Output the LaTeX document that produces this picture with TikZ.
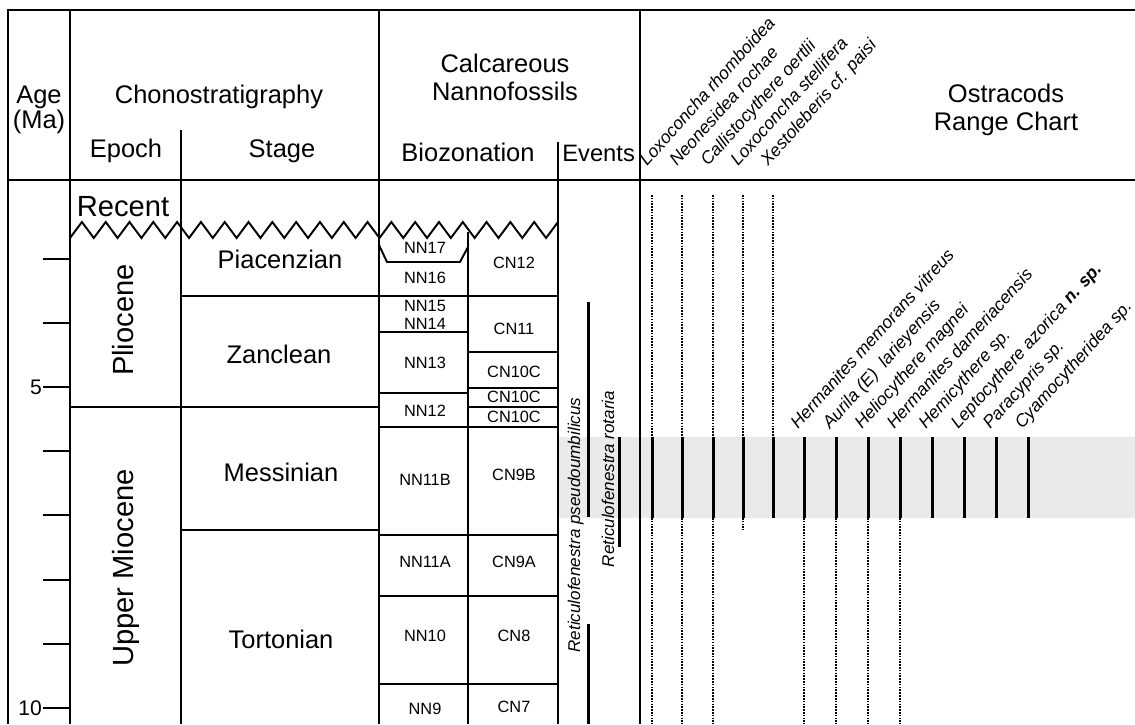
\documentclass[tikz,border=0pt]{standalone}
\usepackage{fontspec}
\setmainfont{Liberation Sans}
\usetikzlibrary{positioning}

\definecolor{bandgrey}{RGB}{234,234,234}

\tikzset{
    rule/.style={line width=1.1pt},
    present/.style={line width=1.7pt},
    absent/.style={line width=1.1pt, dash pattern=on 0.9pt off 0.7pt},
    heading/.style={font=\fontsize{14.5}{16}\selectfont, inner sep=0pt},
    epochname/.style={font=\fontsize{16.6}{18}\selectfont, inner sep=0pt},
    zone/.style={font=\fontsize{9.3}{10}\selectfont, inner sep=0pt},
    taxon/.style={font=\fontsize{10}{11}\selectfont\itshape, rotate=48, anchor=base west, inner sep=0pt},
    marker/.style={font=\fontsize{9.7}{10}\selectfont\itshape, rotate=90, anchor=base, inner sep=0pt},
    agenum/.style={font=\fontsize{12}{13}\selectfont, anchor=east, inner sep=0.5pt}
}

\begin{document}
\begin{tikzpicture}[x=0.02cm, y=-0.02cm]
        \useasboundingbox (0,0) rectangle (1135,724);

        % Shade the interval
        \fill[bandgrey] (558,437) rectangle (1135,518);

        % Draw the frame and the columns
        \draw[rule] (8,724) -- (8,10) -- (1135,10);
        \draw[rule] (8,180) -- (1135,180);
        \draw[rule] (70,10) -- (70,724);
        \draw[rule] (181,130) -- (181,724);
        \draw[rule] (379,10) -- (379,724);
        \draw[rule] (468,232) -- (468,724);
        \draw[rule] (558,142) -- (558,724);
        \draw[rule] (640,10) -- (640,724);

        % Unconformity
        \draw[rule] (70,238) \foreach \i in {1,...,41} { -- ({70+\i*11.902},{230+8*cos(\i*180)}) };

        % Boundaries of stages and zones
        \draw[rule] (379,245) -- (387,262) -- (460,262) -- (468,247);
        \draw[rule] (181,296) -- (558,296);
        \draw[rule] (379,332) -- (468,332);
        \draw[rule] (468,352) -- (558,352);
        \draw[rule] (468,388) -- (558,388);
        \draw[rule] (379,393) -- (468,393);
        \draw[rule] (70,407) -- (379,407);
        \draw[rule] (468,407) -- (558,407);
        \draw[rule] (379,427) -- (558,427);
        \draw[rule] (181,530) -- (379,530);
        \draw[rule] (379,535) -- (558,535);
        \draw[rule] (379,596) -- (558,596);
        \draw[rule] (379,684) -- (558,684);

        % Age scale
        \foreach \a in {3,...,10}
            \draw[rule] (43,{387+(\a-5)*64.2}) -- (70,{387+(\a-5)*64.2});
        \node[agenum] (five) at (43,387) {5};
        \node[agenum] (ten)  at (43,708) {10};

        % Headings
        \node[heading, anchor=base] (age)    at (39,103)   {Age};
        \node[heading, anchor=base] (ma)     at (39,128)   {(Ma)};
        \node[heading, anchor=base] (chrono) at (219,103)  {Chonostratigraphy};
        \node[heading, anchor=base] (epoch)  at (126,157)  {Epoch};
        \node[heading, anchor=base] (stage)  at (282,157)  {Stage};
        \node[heading, anchor=base] (calc)   at (505,72)   {Calcareous};
        \node[heading, anchor=base] (nanno)  at (505,100)  {Nannofossils};
        \node[heading, anchor=base] (bio)    at (468,161)  {Biozonation};
        \node[heading, anchor=base west, font=\fontsize{13.5}{15}\selectfont] (events) at (562,161) {Events};
        \node[heading, anchor=base] (ostra)  at (1006,102) {Ostracods};
        \node[heading, anchor=base] (chart)  at (1006,130) {Range Chart};

        % Epochs and stages
        \node[epochname] (recent) at (123,207) {Recent};
        \node[epochname, rotate=90, anchor=base] (plio) at (133,320) {Pliocene};
        \node[epochname, rotate=90, anchor=base] (mio)  at (133,568) {Upper Miocene};
        \node[heading] (piac) at (280,259) {Piacenzian};
        \node[heading] (zanc) at (279,354) {Zanclean};
        \node[heading] (mess) at (281,472) {Messinian};
        \node[heading] (tort) at (281,639) {Tortonian};

        % Nannofossil zones
        \node[zone] (nn17) at (425,248) {NN17};
        \node[zone] (nn16) at (425,278) {NN16};
        \node[zone] (nn15) at (425,306) {NN15};
        \node[zone, below=3.5pt of nn15] (nn14) {NN14};
        \node[zone] (nn13)  at (425,363) {NN13};
        \node[zone] (nn12)  at (425,411) {NN12};
        \node[zone] (nn11b) at (425,480) {NN11B};
        \node[zone] (nn11a) at (425,562) {NN11A};
        \node[zone] (nn10)  at (425,636) {NN10};
        \node[zone] (nn9)   at (425,709) {NN9};

        \node[zone] (cn12)   at (514,263) {CN12};
        \node[zone] (cn11)   at (514,329) {CN11};
        \node[zone] (cn10c)  at (514,372) {CN10C};
        \node[zone] (cn10cb) at (514,397) {CN10C};
        \node[zone] (cn10cc) at (514,417) {CN10C};
        \node[zone] (cn9b)   at (514,475) {CN9B};
        \node[zone] (cn9a)   at (514,562) {CN9A};
        \node[zone] (cn8)    at (514,636) {CN8};
        \node[zone] (cn7)    at (514,707) {CN7};

        % Nannofossil events
        \node[marker] (pseudo)  at (580,525) {Reticulofenestra pseudoumbilicus};
        \node[marker] (rotaria) at (614,479) {Reticulofenestra rotaria};
        \draw[present] (588,302) -- (588,517);
        \draw[present] (588,624) -- (588,724);
        \draw[present] (619,437) -- (619,547);

        % Ostracod taxa
        \node[taxon] (lrho) at (647,167) {Loxoconcha rhomboidea};
        \node[taxon] (nroc) at (677,167) {Neonesidea rochae};
        \node[taxon] (coer) at (708,167) {Callistocythere oertlii};
        \node[taxon] (lste) at (738,167) {Loxoconcha stellifera};
        \node[taxon] (xpai) at (768,167) {Xestoleberis cf. paisi};

        \node[taxon] (hmem) at (798,430)  {Hermanites memorans vitreus};
        \node[taxon] (alar) at (830,430)  {Aurila (E)\ \ larieyensis};
        \node[taxon] (hmag) at (862,430)  {Heliocythere magnei};
        \node[taxon] (hdam) at (894,430)  {Hermanites dameriacensis};
        \node[taxon] (hemi) at (926,430)  {Hemicythere sp.};
        \node[taxon] (lazo) at (958,430)  {Leptocythere azorica \textbf{n. sp.}};
        \node[taxon] (para) at (990,430)  {Paracypris sp.};
        \node[taxon] (cyam) at (1022,430) {Cyamocytheridea sp.};

        % Ranges
        \foreach \x in {652,682,713,743,773}
            \draw[absent] (\x,195) -- (\x,437);
        \foreach \x in {652,682,713,743,773,804,836,868,900,932,964,996,1028}
            \draw[present] (\x,437) -- (\x,518);
        \foreach \x in {652,682,713,804,836,868,900}
            \draw[absent] (\x,518) -- (\x,724);
        \draw[absent] (743,518) -- (743,530);
\end{tikzpicture}
\end{document}
